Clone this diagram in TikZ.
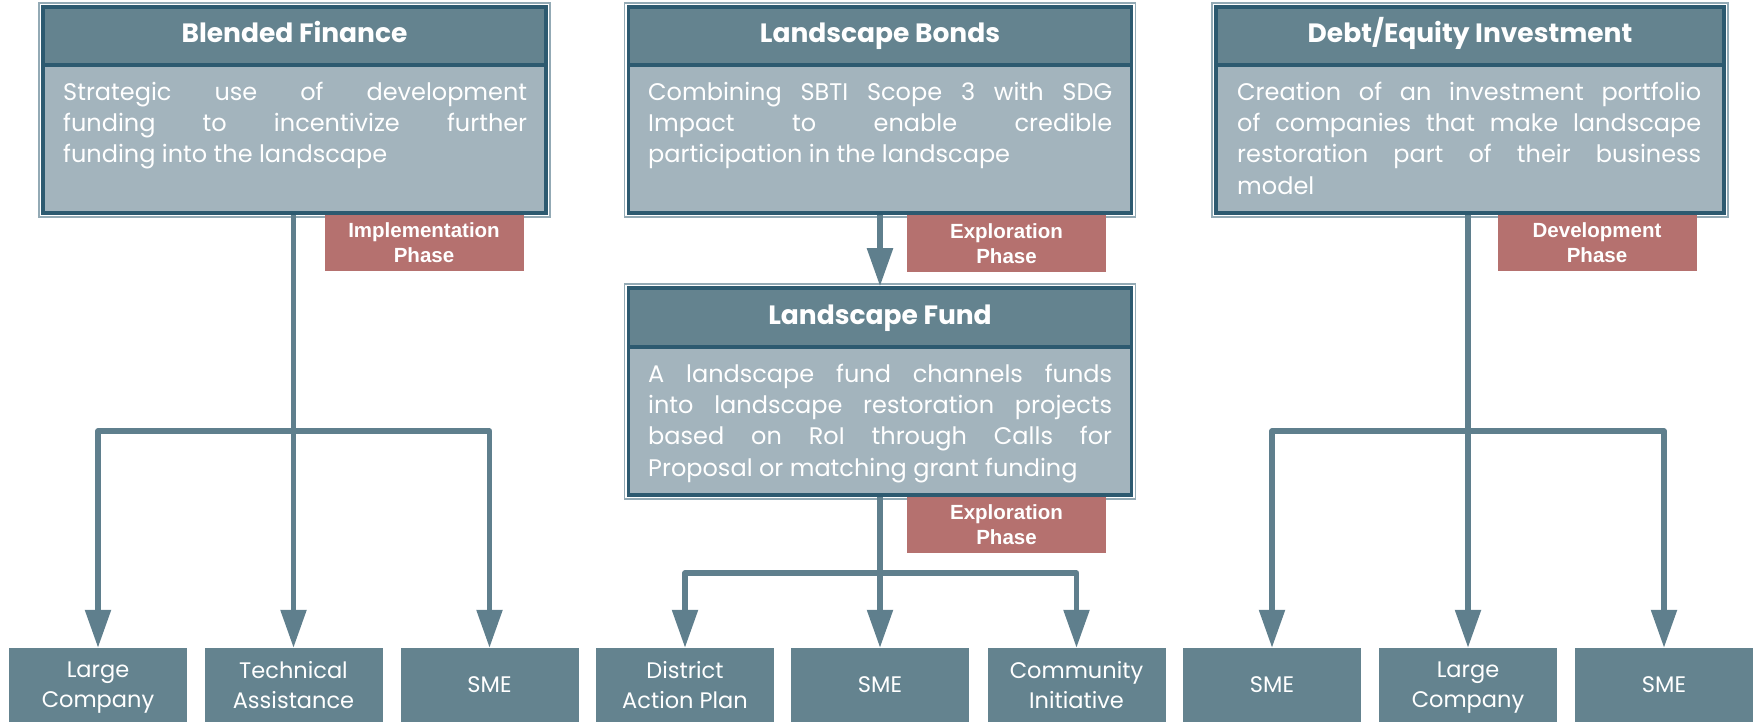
\documentclass[tikz,border=0pt]{standalone}
\usepackage{fontspec}
\setmainfont{Poppins}
\newfontfamily\tagfont{Liberation Sans}
\usetikzlibrary{arrows.meta}
\definecolor{hdrc}{HTML}{64838F}
\definecolor{bodyc}{HTML}{A3B4BD}
\definecolor{edgec}{HTML}{2D5A70}
\definecolor{framec}{HTML}{93AAB5}
\definecolor{tagc}{HTML}{B5716F}
\definecolor{connc}{HTML}{5F7F8D}
\definecolor{leafc}{HTML}{64838F}
\hyphenpenalty=10000
\exhyphenpenalty=10000
\tolerance=10000
\hbadness=10000
\begin{document}
\begin{tikzpicture}[x=1pt,y=-1pt,
  hdr/.style={draw=edgec, line width=3.5pt, fill=hdrc, text=white,
    font=\bfseries\fontsize{26.5}{30}\selectfont, inner sep=0pt,
    text height=19pt, text depth=5pt},
  bodybox/.style={draw=edgec, line width=3.5pt, fill=bodyc, inner sep=0pt},
  bodytxt/.style={text=white, text width=464pt, inner sep=0pt, align=justify,
    font=\fontsize{24}{31.4}\selectfont},
  frame/.style={draw=framec, line width=1.5pt},
  tagbox/.style={fill=tagc, text=white, align=center, inner sep=0pt,
    minimum width=199pt, minimum height=56pt,
    font=\tagfont\bfseries\fontsize{20.5}{25}\selectfont},
  leaf/.style={fill=leafc, text=white, align=center, inner sep=0pt,
    minimum width=178pt, minimum height=74pt, text depth=0pt,
    font=\fontsize{22.5}{30}\selectfont},
  conn/.style={draw=connc, line width=5.5pt, line join=round},
  arr/.style={conn, -{Triangle[length=38pt,width=25pt]}}
]
\useasboundingbox (0,0) rectangle (1759,722);

% ---- Blended Finance
\node[hdr, minimum width=503pt, minimum height=58pt] (bfh) at (294.5,36) {Blended Finance};
\node[bodybox, minimum width=503pt, minimum height=148pt] (bfb) at (294.5,139) {};
\node[bodytxt, anchor=north west] (bft) at (63,78) {\strut Strategic use of development\linebreak funding to incentivize further\linebreak funding into the landscape};
\draw[frame] ([shift={(-2.4,-2.4)}]bfh.north west) rectangle ([shift={(2.4,2.4)}]bfb.south east);

% ---- Landscape Bonds
\node[hdr, minimum width=503pt, minimum height=58pt] (lbh) at (880,36) {Landscape Bonds};
\node[bodybox, minimum width=503pt, minimum height=148pt] (lbb) at (880,139) {};
\node[bodytxt, anchor=north west] (lbt) at (648,78) {\strut Combining SBTI Scope 3 with SDG\linebreak Impact to enable credible\linebreak participation in the landscape};
\draw[frame] ([shift={(-2.4,-2.4)}]lbh.north west) rectangle ([shift={(2.4,2.4)}]lbb.south east);

% ---- Debt/Equity Investment
\node[hdr, minimum width=508pt, minimum height=58pt] (deh) at (1470,36) {Debt/Equity Investment};
\node[bodybox, minimum width=508pt, minimum height=148pt] (deb) at (1470,139) {};
\node[bodytxt, anchor=north west] (det) at (1237,78) {\strut Creation of an investment portfolio\linebreak of companies that make landscape\linebreak restoration part of their business\linebreak model};
\draw[frame] ([shift={(-2.4,-2.4)}]deh.north west) rectangle ([shift={(2.4,2.4)}]deb.south east);

% ---- Landscape Fund
\node[hdr, minimum width=503pt, minimum height=59pt] (lfh) at (880,317.5) {Landscape Fund};
\node[bodybox, minimum width=503pt, minimum height=148pt] (lfb) at (880,421) {};
\node[bodytxt, anchor=north west] (lft) at (648,360) {\strut A landscape fund channels funds\linebreak into landscape restoration projects\linebreak based on RoI through Calls for\linebreak Proposal or matching grant funding};
\draw[frame] ([shift={(-2.4,-2.4)}]lfh.north west) rectangle ([shift={(2.4,2.4)}]lfb.south east);

% ---- phase tags
\node[tagbox] (t1) at (424,243) {Implementation\\Phase};
\node[tagbox] (t2) at (1006.5,243.5) {Exploration\\Phase};
\node[tagbox] (t3) at (1006.5,524.5) {Exploration\\Phase};
\node[tagbox] (t4) at (1597,243) {Development\\Phase};

% ---- leaves
\node[leaf] (l1) at (98,685) {Large\\Company};
\node[leaf] (l2) at (293.5,685) {Technical\\Assistance};
\node[leaf] (l3) at (489.5,685) {SME};
\node[leaf] (l4) at (685,685) {District\\Action Plan};
\node[leaf] (l5) at (880,685) {SME};
\node[leaf] (l6) at (1076.5,685) {Community\\Initiative};
\node[leaf] (l7) at (1272,685) {SME};
\node[leaf] (l8) at (1468,685) {Large\\Company};
\node[leaf] (l9) at (1664,685) {SME};

% ---- junctions
\coordinate (j1) at (293.5,431);
\coordinate (j2) at (880,573);
\coordinate (j3) at (1468,431);

% ---- connectors
\draw[conn] (bfb.south -| j1) -- (j1);
\draw[arr] (j1) -| (l1.north);
\draw[arr] (j1) -- (l2.north);
\draw[arr] (j1) -| (l3.north);

\draw[arr] (lbb.south) -- (lfh.north);

\draw[conn] (lfb.south) -- (j2);
\draw[arr] (j2) -| (l4.north);
\draw[arr] (j2) -- (l5.north);
\draw[arr] (j2) -| (l6.north);

\draw[conn] (deb.south -| j3) -- (j3);
\draw[arr] (j3) -| (l7.north);
\draw[arr] (j3) -- (l8.north);
\draw[arr] (j3) -| (l9.north);
\end{tikzpicture}
\end{document}
